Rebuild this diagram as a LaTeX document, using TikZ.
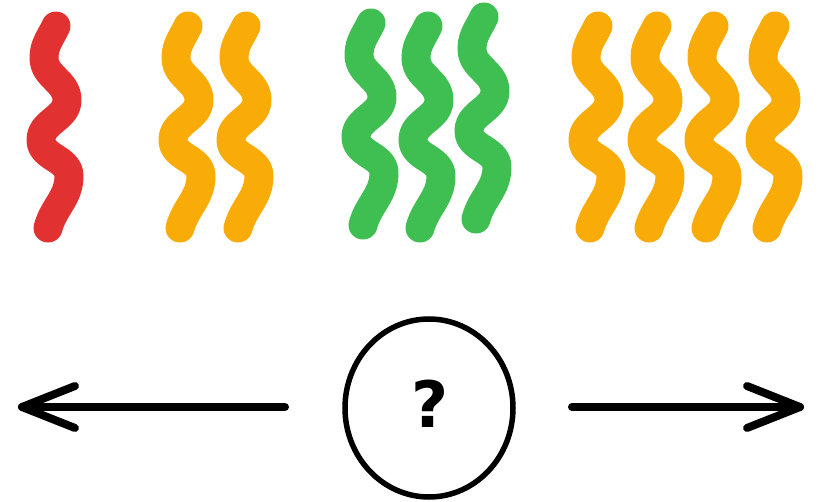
\documentclass[tikz,border=0pt]{standalone}
\usepackage{fontspec}
\setmainfont{DejaVu Sans}
\usetikzlibrary{shapes.geometric}
\definecolor{sqred}{HTML}{E23131}
\definecolor{sqorange}{HTML}{F9AC07}
\definecolor{sqgreen}{HTML}{3FBF52}
\tikzset{
  pics/squig/.style={code={
    \draw[#1, line width=29pt, line cap=round, line join=round]
      (0,0) to[out=-115,in=90] (-12,32) to[out=-90,in=90] (11,74)
      to[out=-90,in=90] (-15,114) to[out=-90,in=90] (13,150)
      to[out=-90,in=75] (-8,202);
  }},
  arrowline/.style={line width=8pt, line cap=round, line join=round, black},
  ring/.style={ellipse, draw=black, line width=5.5pt, minimum width=168pt, minimum height=178pt, inner sep=0pt}
}
\begin{document}
\begin{tikzpicture}[x=1pt,y=-1pt]
\useasboundingbox (0,0) rectangle (820,502);
% squiggles
\pic at (56,26) {squig=sqred};
\pic at (188,26) {squig=sqorange};
\pic at (246,26) {squig=sqorange};
\pic at (371,23) {squig=sqgreen};
\pic at (428,26) {squig=sqgreen};
\pic at (484,17) {squig=sqgreen};
\pic at (598,26) {squig=sqorange};
\pic at (657,26) {squig=sqorange};
\pic at (714,26) {squig=sqorange};
\pic at (775,26) {squig=sqorange};
% circle with question mark
\node[ring] (q) at (429,408) {};
\node (qm) at (430,404) {\fontsize{64}{64}\selectfont\bfseries ?};
% arrows
\coordinate (lstart) at (285,407);
\coordinate (ltip) at (22,407);
\coordinate (rstart) at (572,407);
\coordinate (rtip) at (800,407);
\draw[arrowline] (lstart) -- (ltip);
\draw[arrowline] ([shift={(53,-21)}]ltip) -- (ltip) -- ([shift={(53,21)}]ltip);
\draw[arrowline] (rstart) -- (rtip);
\draw[arrowline] ([shift={(-53,-21)}]rtip) -- (rtip) -- ([shift={(-53,21)}]rtip);
\end{tikzpicture}
\end{document}
